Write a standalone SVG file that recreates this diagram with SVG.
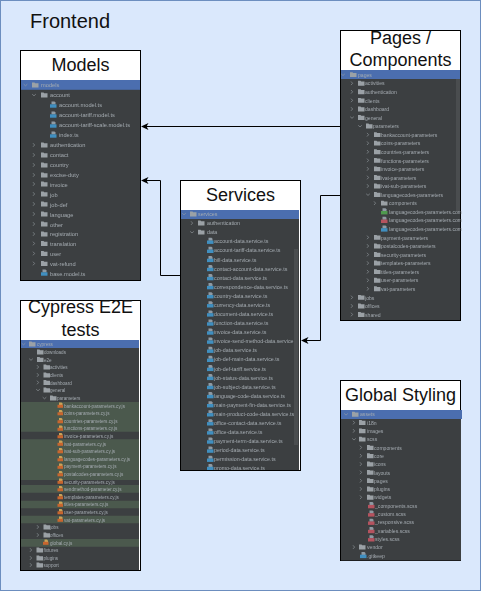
<svg xmlns="http://www.w3.org/2000/svg" width="481" height="591" viewBox="0 0 481 591">
<style>
text{font-family:"Liberation Sans",Arial,sans-serif}
.h{font-size:18px;fill:#111;text-anchor:middle}
.t{fill:#a4abb1;filter:url(#soft)}
.conn{fill:none;stroke:#000;stroke-width:1}
.head{fill:#000}
.box{fill:#fff;stroke:#000;stroke-width:1}
</style>
<defs>
<filter id="soft" x="-5%" y="-5%" width="110%" height="110%"><feGaussianBlur stdDeviation="0.28"/></filter>
<g id="f"><path d="M0 -2.500h2.500l.7 .7h3.300v4.200h-6.500z" fill="#9ba1a6"/></g>
<path id="c" d="M-1 -1.800L.6 0L-1 1.800" fill="none" stroke="#9ba1a6" stroke-width=".6"/>
<path id="d" d="M-1.800 -.8L0 .8L1.800 -.8" fill="none" stroke="#9ba1a6" stroke-width=".6"/>
<g id="b"><path d="M1.500 -3.500h3l1 1v2h-4z" fill="#8f9aa3"/><rect x="0" y="-.7" width="6.500" height="3.400" fill="#3f8fc0"/></g>
<g id="g"><path d="M1.500 -3.500h3l1 1v2h-4z" fill="#8f9aa3"/><rect x="0" y="-.7" width="6.500" height="3.400" fill="#4f9a4f"/></g>
<g id="r"><path d="M1.500 -3.500h3l1 1v2h-4z" fill="#8f9aa3"/><rect x="0" y="-.7" width="6.500" height="3.400" fill="#b5525f"/></g>
<g id="o"><path d="M1.500 -3h2.500l1 1v1.500h-3.500z" fill="#c9a35a"/><rect x="0" y="-.7" width="5.500" height="3" fill="#c8662f"/></g>
<clipPath id="cp-services"><rect x="181" y="210" width="118" height="260"/></clipPath>
</defs>
<rect x=".5" y=".5" width="480" height="590" fill="#dae8fc" stroke="#6c8ebf"/>
<text x="30" y="28" font-size="20" fill="#111">Frontend</text>

<g id="models">
<rect class="box" x="20.500" y="50.500" width="120" height="230"/>
<text class="h" x="80.500" y="71">Models</text>
<rect x="21" y="80" width="119" height="200" fill="#3c3f41"/>
<rect x="21" y="80" width="119" height="9.800" fill="#4b6eaf"/>
<g class="t" font-size="5.700">
<use href="#d" x="25.500" y="85"/><use href="#f" x="32" y="85"/><text x="41" y="87.300">models</text>
<use href="#d" x="34" y="95"/><use href="#f" x="41" y="95"/><text x="50" y="97.200">account</text>
<use href="#b" x="50" y="105"/><text x="59" y="107.200">account.model.ts</text>
<use href="#b" x="50" y="115"/><text x="59" y="117">account-tariff.model.ts</text>
<use href="#b" x="50" y="125"/><text x="59" y="127">account-tariff-scale.model.ts</text>
<use href="#b" x="50" y="135"/><text x="59" y="137">index.ts</text>
<use href="#c" x="34" y="145"/><use href="#f" x="41" y="145"/><text x="50" y="147">authentication</text>
<use href="#c" x="34" y="155"/><use href="#f" x="41" y="155"/><text x="50" y="157">contact</text>
<use href="#c" x="34" y="165"/><use href="#f" x="41" y="165"/><text x="50" y="167">country</text>
<use href="#c" x="34" y="175"/><use href="#f" x="41" y="175"/><text x="50" y="177">excise-duty</text>
<use href="#c" x="34" y="184"/><use href="#f" x="41" y="184"/><text x="50" y="186.500">invoice</text>
<use href="#c" x="34" y="194"/><use href="#f" x="41" y="194"/><text x="50" y="196.500">job</text>
<use href="#c" x="34" y="204"/><use href="#f" x="41" y="204"/><text x="50" y="206.500">job-def</text>
<use href="#c" x="34" y="214"/><use href="#f" x="41" y="214"/><text x="50" y="216.500">language</text>
<use href="#c" x="34" y="224"/><use href="#f" x="41" y="224"/><text x="50" y="226.500">other</text>
<use href="#c" x="34" y="234"/><use href="#f" x="41" y="234"/><text x="50" y="236.300">registration</text>
<use href="#c" x="34" y="243.500"/><use href="#f" x="41" y="243.500"/><text x="50" y="246">translation</text>
<use href="#c" x="34" y="253.500"/><use href="#f" x="41" y="253.500"/><text x="50" y="256">user</text>
<use href="#c" x="34" y="263.500"/><use href="#f" x="41" y="263.500"/><text x="50" y="266">vat-refund</text>
<use href="#b" x="41" y="273"/><text x="50" y="275.700">base.model.ts</text>
</g>
</g>

<g id="pages">
<rect class="box" x="340.500" y="30.500" width="120" height="290"/>
<text class="h" x="400.500" y="44">Pages /</text>
<text class="h" x="400.500" y="66">Components</text>
<rect x="341" y="70" width="119" height="250" fill="#3c3f41"/>
<rect x="341" y="70" width="119" height="9" fill="#4b6eaf"/>
<rect x="456" y="79" width="4" height="132" fill="#4a4d4f"/>
<g class="t" font-size="5.100">
<use href="#d" x="343" y="74.700"/><use href="#f" x="350" y="74.700"/><text x="358" y="76.800">pages</text>
<use href="#c" x="352" y="83.300"/><use href="#f" x="358" y="83.300"/><text x="365" y="85.400">activities</text>
<use href="#c" x="352" y="91.800"/><use href="#f" x="358" y="91.800"/><text x="365" y="94">authentication</text>
<use href="#c" x="352" y="100.400"/><use href="#f" x="358" y="100.400"/><text x="365" y="102.500">clients</text>
<use href="#c" x="352" y="109"/><use href="#f" x="358" y="109"/><text x="365" y="111.100">dashboard</text>
<use href="#d" x="352" y="117.500"/><use href="#f" x="358" y="117.500"/><text x="365" y="119.700">general</text>
<use href="#d" x="360" y="126.100"/><use href="#f" x="366" y="126.100"/><text x="373" y="128.200">parameters</text>
<use href="#c" x="368" y="134.700"/><use href="#f" x="374" y="134.700"/><text x="381" y="136.800">bankaccount-parameters</text>
<use href="#c" x="368" y="143.200"/><use href="#f" x="374" y="143.200"/><text x="381" y="145.400">coins-parameters</text>
<use href="#c" x="368" y="151.800"/><use href="#f" x="374" y="151.800"/><text x="381" y="153.900">countries-parameters</text>
<use href="#c" x="368" y="160.400"/><use href="#f" x="374" y="160.400"/><text x="381" y="162.500">functions-parameters</text>
<use href="#c" x="368" y="168.900"/><use href="#f" x="374" y="168.900"/><text x="381" y="171">invoice-parameters</text>
<use href="#c" x="368" y="177.500"/><use href="#f" x="374" y="177.500"/><text x="381" y="179.600">ivat-parameters</text>
<use href="#c" x="368" y="186"/><use href="#f" x="374" y="186"/><text x="381" y="188.200">ivat-sub-parameters</text>
<use href="#d" x="368" y="194.600"/><use href="#f" x="374" y="194.600"/><text x="381" y="196.700">languagecodes-parameters</text>
<use href="#c" x="375" y="203.200"/><use href="#f" x="381" y="203.200"/><text x="389" y="205.300">components</text>
<use href="#g" x="381" y="211.700"/><text x="389" y="213.800">languagecodes-parameters.com</text>
<use href="#r" x="381" y="220.300"/><text x="389" y="222.400">languagecodes-parameters.com</text>
<use href="#b" x="381" y="228.900"/><text x="389" y="231">languagecodes-parameters.com</text>
<use href="#c" x="368" y="237.400"/><use href="#f" x="374" y="237.400"/><text x="381" y="239.500">payment-parameters</text>
<use href="#c" x="368" y="246"/><use href="#f" x="374" y="246"/><text x="381" y="248.100">postalcodes-parameters</text>
<use href="#c" x="368" y="254.600"/><use href="#f" x="374" y="254.600"/><text x="381" y="256.700">security-parameters</text>
<use href="#c" x="368" y="263.100"/><use href="#f" x="374" y="263.100"/><text x="381" y="265.200">templates-parameters</text>
<use href="#c" x="368" y="271.700"/><use href="#f" x="374" y="271.700"/><text x="381" y="273.800">titles-parameters</text>
<use href="#c" x="368" y="280.300"/><use href="#f" x="374" y="280.300"/><text x="381" y="282.400">user-parameters</text>
<use href="#c" x="368" y="288.800"/><use href="#f" x="374" y="288.800"/><text x="381" y="290.900">vat-parameters</text>
<use href="#c" x="352" y="297.400"/><use href="#f" x="358" y="297.400"/><text x="365" y="299.500">jobs</text>
<use href="#c" x="352" y="306"/><use href="#f" x="358" y="306"/><text x="365" y="308.100">offices</text>
<use href="#c" x="352" y="314.500"/><use href="#f" x="358" y="314.500"/><text x="365" y="316.600">shared</text>
</g>
</g>

<g id="services">
<rect class="box" x="180.500" y="180.500" width="120" height="290"/>
<text class="h" x="240.500" y="201">Services</text>
<rect x="181" y="210" width="118" height="260" fill="#3c3f41"/>
<rect x="181" y="210" width="118" height="9" fill="#4b6eaf"/>
<rect x="294" y="249" width="4" height="196" fill="#4a4d4f"/>
<g clip-path="url(#cp-services)">
<g class="t" font-size="5.300">
<use href="#d" x="184" y="214"/><use href="#f" x="190" y="214"/><text x="198" y="216.100">services</text>
<use href="#c" x="192" y="223.100"/><use href="#f" x="198" y="223.100"/><text x="207" y="225.200">authentication</text>
<use href="#d" x="192" y="232.200"/><use href="#f" x="198" y="232.200"/><text x="207" y="234.300">data</text>
<use href="#b" x="207" y="241.200"/><text x="214" y="243.400">account-data.service.ts</text>
<use href="#b" x="207" y="250.300"/><text x="214" y="252.400">account-tariff-data.service.ts</text>
<use href="#b" x="207" y="259.400"/><text x="214" y="261.500">bill-data.service.ts</text>
<use href="#b" x="207" y="268.500"/><text x="214" y="270.600">contact-account-data.service.ts</text>
<use href="#b" x="207" y="277.600"/><text x="214" y="279.700">contact-data.service.ts</text>
<use href="#b" x="207" y="286.600"/><text x="214" y="288.800">correspondence-data.service.ts</text>
<use href="#b" x="207" y="295.700"/><text x="214" y="297.800">country-data.service.ts</text>
<use href="#b" x="207" y="304.800"/><text x="214" y="306.900">currency-data.service.ts</text>
<use href="#b" x="207" y="313.900"/><text x="214" y="316">document-data.service.ts</text>
<use href="#b" x="207" y="323"/><text x="214" y="325.100">function-data.service.ts</text>
<use href="#b" x="207" y="332"/><text x="214" y="334.200">invoice-data.service.ts</text>
<use href="#b" x="207" y="341.100"/><text x="214" y="343.200">invoice-send-method-data.service</text>
<use href="#b" x="207" y="350.200"/><text x="214" y="352.300">job-data.service.ts</text>
<use href="#b" x="207" y="359.300"/><text x="214" y="361.400">job-def-main-data.service.ts</text>
<use href="#b" x="207" y="368.400"/><text x="214" y="370.500">job-def-tariff.service.ts</text>
<use href="#b" x="207" y="377.400"/><text x="214" y="379.600">job-status-data.service.ts</text>
<use href="#b" x="207" y="386.500"/><text x="214" y="388.600">job-subject-data.service.ts</text>
<use href="#b" x="207" y="395.600"/><text x="214" y="397.700">language-code-data.service.ts</text>
<use href="#b" x="207" y="404.700"/><text x="214" y="406.800">main-payment-fin-data.service.ts</text>
<use href="#b" x="207" y="413.800"/><text x="214" y="415.900">main-product-code-data.service.ts</text>
<use href="#b" x="207" y="422.800"/><text x="214" y="425">office-contact-data.service.ts</text>
<use href="#b" x="207" y="431.900"/><text x="214" y="434">office-data.service.ts</text>
<use href="#b" x="207" y="441"/><text x="214" y="443.100">payment-term-data.service.ts</text>
<use href="#b" x="207" y="450.100"/><text x="214" y="452.200">period-data.service.ts</text>
<use href="#b" x="207" y="459.200"/><text x="214" y="461.300">permission-data.service.ts</text>
<use href="#b" x="207" y="467.500"/><text x="214" y="469.500">promo-data.service.ts</text>
</g>
</g>
</g>

<g id="cypress">
<rect class="box" x="20.500" y="300.500" width="120" height="270"/>
<text class="h" x="80.500" y="313">Cypress E2E</text>
<text class="h" x="80.500" y="336">tests</text>
<rect x="21" y="340" width="118" height="230" fill="#3c3f41"/>
<rect x="21" y="340" width="118" height="8" fill="#4b6eaf"/>
<path fill="#4b594d" d="M21 402h118v29.700h-118zM21 439.300h118v40.700h-118zM21 485h118v7.700h-118zM21 500.700h118v7.500h-118zM21 515.700h118v7.500h-118zM21 539h118v7.700h-118z"/>
<g class="t" font-size="4.600">
<use href="#d" x="23.500" y="344"/><use href="#f" x="29" y="344"/><text x="37" y="346">cypress</text>
<use href="#f" x="37" y="352"/><text x="44" y="354">downloads</text>
<use href="#d" x="31" y="359.500"/><use href="#f" x="37" y="359.500"/><text x="44" y="361.500">e2e</text>
<use href="#c" x="38" y="367"/><use href="#f" x="43.500" y="367"/><text x="50" y="369">activities</text>
<use href="#c" x="38" y="375"/><use href="#f" x="43.500" y="375"/><text x="50" y="377">clients</text>
<use href="#c" x="38" y="382.500"/><use href="#f" x="43.500" y="382.500"/><text x="50" y="384.500">dashboard</text>
<use href="#d" x="38" y="390"/><use href="#f" x="43.500" y="390"/><text x="50" y="392">general</text>
<use href="#d" x="44.500" y="398"/><use href="#f" x="50" y="398"/><text x="57" y="400">parameters</text>
<use href="#o" x="57.500" y="405.500"/><text x="64" y="407.600">bankaccount-parameters.cy.js</text>
<use href="#o" x="57.500" y="413"/><text x="64" y="415.200">coins-parameters.cy.js</text>
<use href="#o" x="57.500" y="421"/><text x="64" y="422.800">countries-parameters.cy.js</text>
<use href="#o" x="57.500" y="428.500"/><text x="64" y="430.400">functions-parameters.cy.js</text>
<use href="#o" x="57.500" y="436"/><text x="64" y="438">invoice-parameters.cy.js</text>
<use href="#o" x="57.500" y="443.500"/><text x="64" y="445.600">ivat-parameters.cy.js</text>
<use href="#o" x="57.500" y="451"/><text x="64" y="453.200">ivat-sub-parameters.cy.js</text>
<use href="#o" x="57.500" y="459"/><text x="64" y="460.800">languagecodes-parameters.cy.js</text>
<use href="#o" x="57.500" y="466.500"/><text x="64" y="468.400">payment-parameters.cy.js</text>
<use href="#o" x="57.500" y="474"/><text x="64" y="476">postalcodes-parameters.cy.js</text>
<use href="#o" x="57.500" y="481.500"/><text x="64" y="483.600">security-parameters.cy.js</text>
<use href="#o" x="57.500" y="489"/><text x="64" y="491.200">sendmethod-parameter.cy.js</text>
<use href="#o" x="57.500" y="497"/><text x="64" y="498.800">templates-parameters.cy.js</text>
<use href="#o" x="57.500" y="504.500"/><text x="64" y="506.400">titles-parameters.cy.js</text>
<use href="#o" x="57.500" y="512"/><text x="64" y="514">user-parameters.cy.js</text>
<use href="#o" x="57.500" y="519.500"/><text x="64" y="521.600">vat-parameters.cy.js</text>
<use href="#c" x="38" y="527"/><use href="#f" x="43.500" y="527"/><text x="50" y="529.200">jobs</text>
<use href="#c" x="38" y="535"/><use href="#f" x="43.500" y="535"/><text x="50" y="536.800">offices</text>
<use href="#o" x="43" y="542.500"/><text x="50" y="544.600">global.cy.js</text>
<use href="#c" x="31" y="550"/><use href="#f" x="36.500" y="550"/><text x="43.500" y="552.200">fixtures</text>
<use href="#c" x="31" y="558"/><use href="#f" x="36.500" y="558"/><text x="43.500" y="559.800">plugins</text>
<use href="#c" x="31" y="565"/><use href="#f" x="36.500" y="565"/><text x="43.500" y="567.400">support</text>
</g>
</g>

<g id="styling">
<rect class="box" x="340.500" y="380.500" width="120" height="180"/>
<text class="h" x="400.500" y="401">Global Styling</text>
<rect x="341" y="410" width="120" height="150.500" fill="#3c3f41"/>
<rect x="341" y="410" width="121" height="9" fill="#4b6eaf"/>
<g class="t" font-size="5.100">
<use href="#d" x="346" y="414.300"/><use href="#f" x="352" y="414.300"/><text x="360" y="416.400">assets</text>
<use href="#c" x="354" y="422.600"/><use href="#f" x="359" y="422.600"/><text x="367" y="424.700">i18n</text>
<use href="#c" x="354" y="430.900"/><use href="#f" x="359" y="430.900"/><text x="367" y="433">images</text>
<use href="#d" x="354" y="439.200"/><use href="#f" x="359" y="439.200"/><text x="367" y="441.300">scss</text>
<use href="#c" x="361" y="447.500"/><use href="#f" x="367" y="447.500"/><text x="374" y="449.600">components</text>
<use href="#c" x="361" y="455.800"/><use href="#f" x="367" y="455.800"/><text x="374" y="457.900">core</text>
<use href="#c" x="361" y="464.100"/><use href="#f" x="367" y="464.100"/><text x="374" y="466.200">icons</text>
<use href="#c" x="361" y="472.400"/><use href="#f" x="367" y="472.400"/><text x="374" y="474.500">layouts</text>
<use href="#c" x="361" y="480.700"/><use href="#f" x="367" y="480.700"/><text x="374" y="482.800">pages</text>
<use href="#c" x="361" y="489"/><use href="#f" x="367" y="489"/><text x="374" y="491.100">plugins</text>
<use href="#c" x="361" y="497.300"/><use href="#f" x="367" y="497.300"/><text x="374" y="499.400">widgets</text>
<use href="#r" x="368" y="505.600"/><text x="375" y="507.700">_components.scss</text>
<use href="#r" x="368" y="513.900"/><text x="375" y="516">_custom.scss</text>
<use href="#r" x="368" y="522.200"/><text x="375" y="524.300">_responsive.scss</text>
<use href="#r" x="368" y="530.500"/><text x="375" y="532.600">_variables.scss</text>
<use href="#r" x="368" y="538.800"/><text x="375" y="540.900">styles.scss</text>
<use href="#c" x="354" y="547.100"/><use href="#f" x="359" y="547.100"/><text x="367" y="549.200">vendor</text>
<use href="#b" x="360" y="555.400"/><text x="367" y="557.500">.gitkeep</text>
</g>
</g>

<g id="connectors">
<path class="conn" d="M340 126.500H146"/>
<path class="head" d="M141 126.500l7.500 -3.500l-2 3.500l2 3.500z"/>
<path class="conn" d="M180 275.500H160.500V180.500H146"/>
<path class="head" d="M141 180.500l7.500 -3.500l-2 3.500l2 3.500z"/>
<path class="conn" d="M340 195.500H320.500V340.500H306"/>
<path class="head" d="M301 340.500l7.500 -3.500l-2 3.500l2 3.500z"/>
</g>
</svg>
